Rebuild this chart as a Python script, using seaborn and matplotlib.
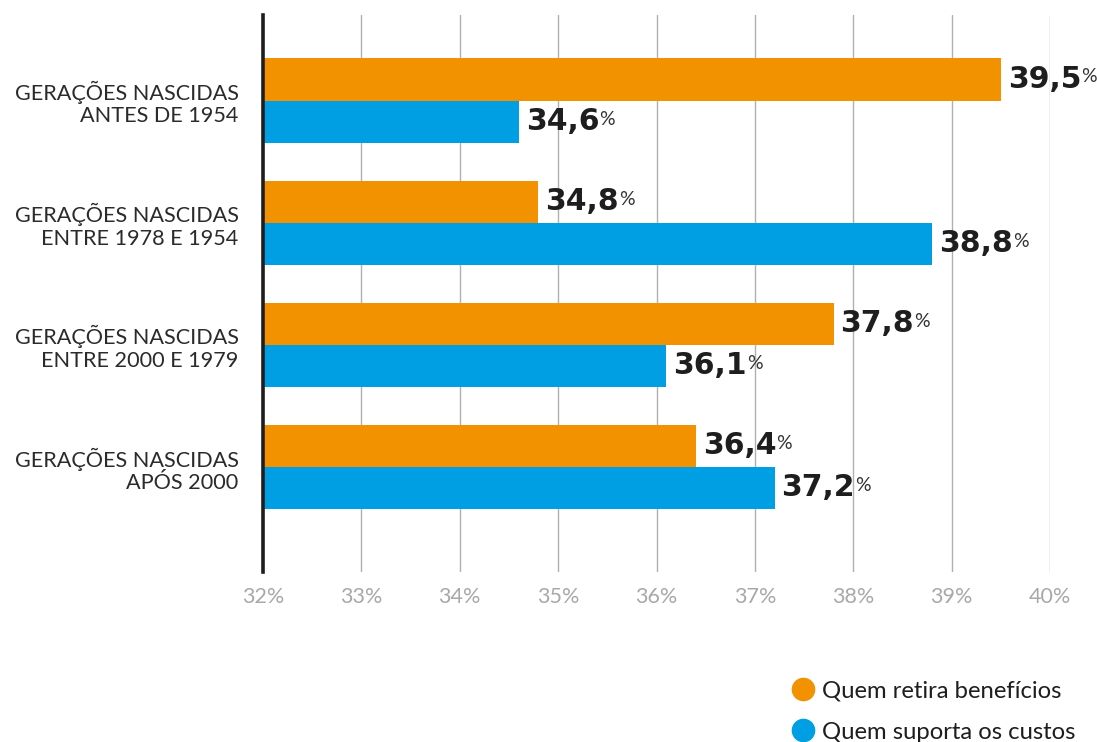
import matplotlib
matplotlib.use("Agg")
import matplotlib.pyplot as plt
from matplotlib.lines import Line2D
import seaborn as sns
import pandas as pd

# Data
geracoes = [
    "GERAÇÕES NASCIDAS\nANTES DE 1954",
    "GERAÇÕES NASCIDAS\nENTRE 1978 E 1954",
    "GERAÇÕES NASCIDAS\nENTRE 2000 E 1979",
    "GERAÇÕES NASCIDAS\nAPÓS 2000",
]
series = ["Quem retira benefícios", "Quem suporta os custos"]
beneficios = [39.5, 34.8, 37.8, 36.4]
custos = [34.6, 38.8, 36.1, 37.2]
x_ticks = [32, 33, 34, 35, 36, 37, 38, 39, 40]

cores = ["#F39200", "#009FE3"]

sns.set_style("white")
plt.rcParams["font.family"] = ["Lato", "DejaVu Sans"]

df = pd.DataFrame({
    "geracao": geracoes * 2,
    "grupo": [series[0]] * 4 + [series[1]] * 4,
    "valor": beneficios + custos,
})

fig = plt.figure(figsize=(10.97, 7.42), dpi=100)
ax = fig.add_axes([263 / 1097, 1 - 572 / 742, 787 / 1097, 557 / 742])

sns.barplot(data=df, x="valor", y="geracao", hue="grupo", orient="h",
            palette=cores, width=0.689, saturation=1, legend=False,
            errorbar=None, ax=ax, zorder=2, linewidth=0)

ax.set_xlim(32, 40)
ax.set_ylim(3.86, -0.70)
ax.set_xticks(x_ticks)
ax.set_xticklabels([f"{t}%" for t in x_ticks], color="#A8A8A8", fontsize=15.5)
ax.tick_params(axis="x", length=0, pad=11)
ax.tick_params(axis="y", length=0, pad=17.5, labelsize=15.6, labelcolor="#2b2b2b")
for lab in ax.get_yticklabels():
    lab.set_multialignment("right")
    lab.set_linespacing(1.15)
ax.set_xlabel("")
ax.set_ylabel("")

ax.grid(axis="x", color="#B0B0B0", linewidth=1.0, zorder=0)
ax.grid(axis="y", visible=False)
for side in ["top", "right", "bottom"]:
    ax.spines[side].set_visible(False)
ax.spines["left"].set_color("#1e1e1e")
ax.spines["left"].set_linewidth(2.6)
ax.spines["left"].set_zorder(3)

# Value labels: bold number followed by a smaller raised percent sign
for container in ax.containers:
    for bar in container:
        v = bar.get_width()
        yc = bar.get_y() + bar.get_height() / 2
        t = ax.annotate(f"{v:.1f}".replace(".", ","), xy=(v, yc),
                        xytext=(5, 0), textcoords="offset points",
                        ha="left", va="center", fontsize=21.5,
                        fontweight="bold", family="DejaVu Sans",
                        color="#1e1e1e", zorder=4)
        ax.annotate("%", xy=(1.0, 0.88), xycoords=t, ha="left", va="top",
                    fontsize=14, color="#333333", zorder=4)

# Legend
handles = [Line2D([0], [0], marker="o", linestyle="", markersize=16,
                  markerfacecolor=c, markeredgecolor=c) for c in cores]
fig.legend(handles, series, loc="lower right", bbox_to_anchor=(1.0, -0.03),
           frameon=False, fontsize=17.2, handletextpad=0.3, labelspacing=0.86,
           labelcolor="#1e1e1e", handlelength=1.0)

fig.savefig("out.png", dpi=100)
